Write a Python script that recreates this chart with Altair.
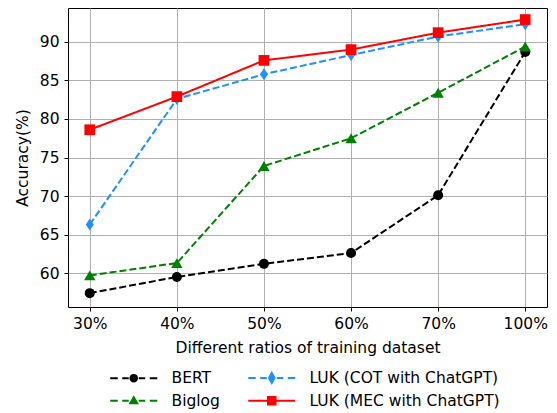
import altair as alt
import pandas as pd

ratios = ["30%", "40%", "50%", "60%", "70%", "100%"]
bert = [57.4, 59.5, 61.2, 62.6, 70.1, 88.7]
biglog = [59.7, 61.3, 73.9, 77.5, 83.4, 89.4]
luk_cot = [66.3, 82.6, 85.8, 88.3, 90.7, 92.3]
luk_mec = [78.6, 82.9, 87.6, 89.0, 91.2, 92.9]

names = ["BERT", "Biglog", "LUK (COT with ChatGPT)", "LUK (MEC with ChatGPT)"]
colors = ["#000000", "#008000", "#1E90FF", "#FF0000"]
dashes = [[7, 3], [7, 3], [7, 3], [1, 0]]
plot_shapes = ["circle", "triangle-up", "M0,-1L0.67,0L0,1L-0.67,0Z", "square"]
plot_sizes = [100, 130, 144, 115]

dash_path = "M-4.7,0L-3.2,0M-2.3,0L-1.0,0M1.0,0L2.3,0M3.2,0L4.7,0"
legend_shapes = [
    dash_path + "M0.65,0A0.65,0.65 0 1,1 -0.65,0A0.65,0.65 0 1,1 0.65,0Z",
    dash_path + "M0,-0.7L0.7,0.5L-0.7,0.5Z",
    dash_path + "M0,-1.0L0.55,0L0,1.0L-0.55,0Z",
    "M-4.7,0L4.7,0M-0.75,-0.75L0.75,-0.75L0.75,0.75L-0.75,0.75Z",
]

FS = 15.5
FONT = "DejaVu Sans"

rows = []
for name, vals in zip(names, [bert, biglog, luk_cot, luk_mec]):
    for r, v in zip(ratios, vals):
        rows.append({"ratio": r, "acc": v, "series": name})
df = pd.DataFrame(rows)

x = alt.X("ratio:N", sort=ratios, scale=alt.Scale(type="point", padding=0.25),
          axis=alt.Axis(title="Different ratios of training dataset", labelAngle=0))
y = alt.Y("acc:Q", scale=alt.Scale(domain=[55.6, 94.4], nice=False, zero=False),
          axis=alt.Axis(title="Accuracy(%)", values=[60, 65, 70, 75, 80, 85, 90]))

base = alt.Chart(df)
layers = []
for name, c, d, s, sz in zip(names, colors, dashes, plot_shapes, plot_sizes):
    sub = base.transform_filter(alt.datum.series == name)
    layers.append(sub.mark_line(color=c, strokeWidth=2, strokeDash=d).encode(x=x, y=y))
    layers.append(sub.mark_point(color=c, filled=True, opacity=1, shape=s, size=sz).encode(x=x, y=y))

legend_layer = base.transform_filter("false").mark_point(
    filled=True, opacity=1, size=100, strokeWidth=2
).encode(
    x=x, y=y,
    fill=alt.Fill("series:N", scale=alt.Scale(domain=names, range=colors),
                  legend=alt.Legend(title=None, orient="none", legendX=58, legendY=362,
                                    columns=2, columnPadding=24, rowPadding=6,
                                    labelOffset=30, symbolSize=100, symbolStrokeWidth=2,
                                    symbolOpacity=1, labelFontSize=FS, labelFont=FONT,
                                    labelColor="#000", labelLimit=400, padding=0)),
    stroke=alt.Stroke("series:N", scale=alt.Scale(domain=names, range=colors)),
    shape=alt.Shape("series:N", scale=alt.Scale(domain=names, range=legend_shapes)),
)

chart = alt.layer(*layers, legend_layer).properties(
    width=479, height=299,
    autosize=alt.AutoSizeParams(type="none"),
    padding={"left": 60, "top": 0, "right": 2, "bottom": 103},
).configure_view(stroke="#000", strokeWidth=1).configure_axis(
    labelFont=FONT, titleFont=FONT, labelFontSize=FS, titleFontSize=FS,
    titleFontWeight="normal", labelColor="#000", titleColor="#000",
    tickColor="#000", tickSize=4, labelPadding=4, domain=False,
    grid=True, gridColor="#b0b0b0", gridWidth=1,
).configure_axisY(titlePadding=9, labelPadding=5).configure_axisX(titlePadding=9, labelPadding=5)

chart.save("out.html", embed_options={"renderer": "svg", "actions": False})
